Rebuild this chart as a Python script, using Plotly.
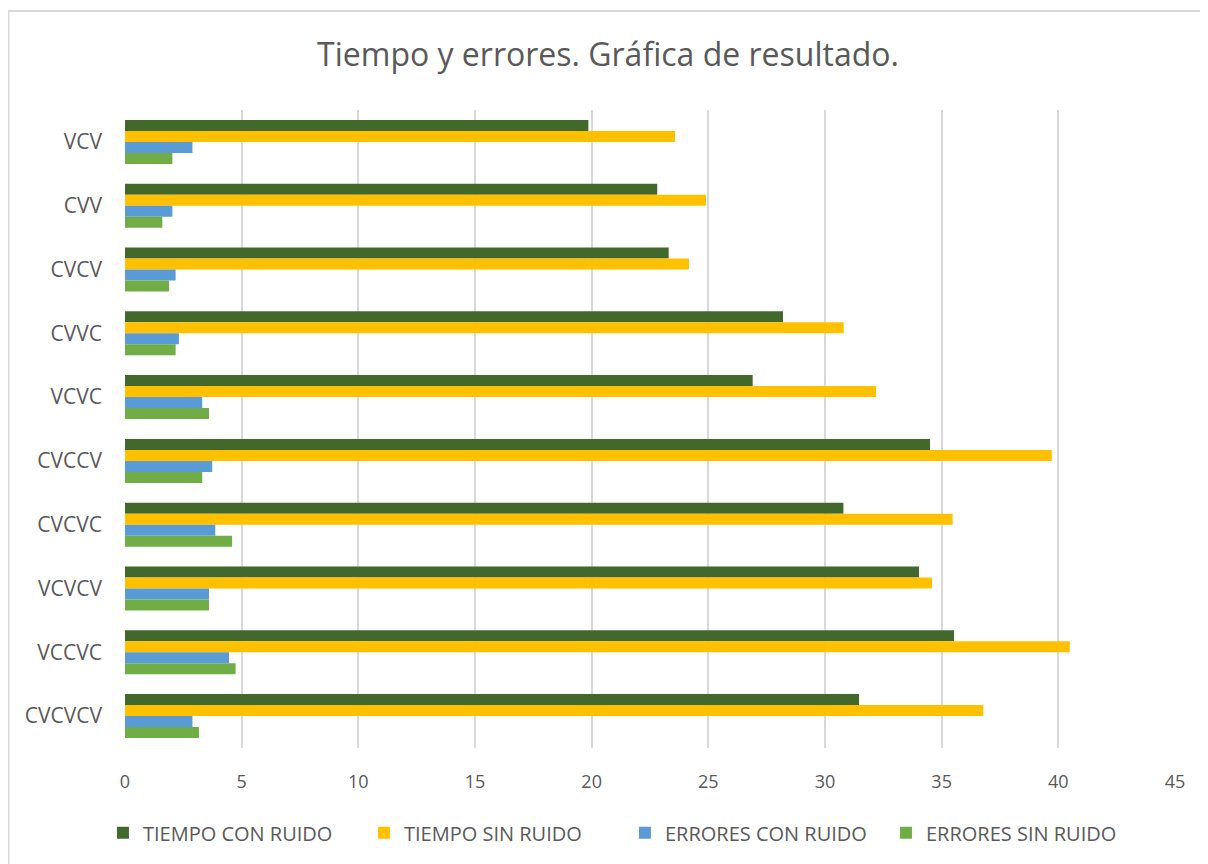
import plotly.graph_objects as go

categories = ["VCV", "CVV", "CVCV", "CVVC", "VCVC", "CVCCV", "CVCVC", "VCVCV", "VCCVC", "CVCVCV"]
tiempo_con_ruido = [19.86, 22.81, 23.30, 28.20, 26.90, 34.50, 30.79, 34.03, 35.53, 31.46]
tiempo_sin_ruido = [23.57, 24.90, 24.17, 30.80, 32.19, 39.72, 35.47, 34.59, 40.49, 36.78]
errores_con_ruido = [2.89, 2.03, 2.17, 2.31, 3.31, 3.74, 3.87, 3.60, 4.46, 2.89]
errores_sin_ruido = [2.03, 1.60, 1.89, 2.17, 3.60, 3.31, 4.59, 3.60, 4.74, 3.17]

series_names = ["TIEMPO CON RUIDO", "TIEMPO SIN RUIDO", "ERRORES CON RUIDO", "ERRORES SIN RUIDO"]
series_values = [tiempo_con_ruido, tiempo_sin_ruido, errores_con_ruido, errores_sin_ruido]
colors = ["#43682B", "#FFC000", "#5B9BD5", "#70AD47"]

x_ticks = [0, 5, 10, 15, 20, 25, 30, 35, 40, 45]

fig = go.Figure()
for name, vals, col in zip(series_names, series_values, colors):
    fig.add_trace(go.Bar(
        y=categories, x=vals, name=name, orientation="h",
        marker=dict(color=col, line=dict(width=0)),
    ))

FONT = "Open Sans"
TXT = "#595959"

fig.update_layout(
    width=1200, height=856,
    margin=dict(l=117, r=33, t=102, b=116),
    paper_bgcolor="white", plot_bgcolor="white",
    barmode="group", bargap=0.31, bargroupgap=0,
    title=dict(text="Tiempo y errores. Gráfica de resultado.",
               font=dict(family=FONT, size=32, color=TXT),
               x=0.5, xanchor="center", y=0.945, yanchor="middle"),
    font=dict(family=FONT, color=TXT),
    xaxis=dict(range=[0, 45], tickvals=x_ticks, showgrid=True, gridcolor="#D9D9D9",
               gridwidth=1.5, zeroline=False, showline=False,
               tickfont=dict(family=FONT, size=18, color=TXT), ticklabelstandoff=21),
    yaxis=dict(autorange="reversed", showgrid=False, zeroline=False, showline=False,
               tickfont=dict(family=FONT, size=21, color=TXT), ticklabelstandoff=22),
    legend=dict(orientation="h", x=-0.021, xanchor="left", y=-0.133, yanchor="middle",
                font=dict(family=FONT, size=20, color=TXT), traceorder="normal",
                entrywidth=216, entrywidthmode="pixels"),
    shapes=[dict(type="rect", xref="paper", yref="paper",
                 x0=-0.111, x1=1.06, y0=-0.3, y1=1.155,
                 line=dict(color="#D9D9D9", width=2), fillcolor="rgba(0,0,0,0)")],
)

fig.write_html("out.html")
